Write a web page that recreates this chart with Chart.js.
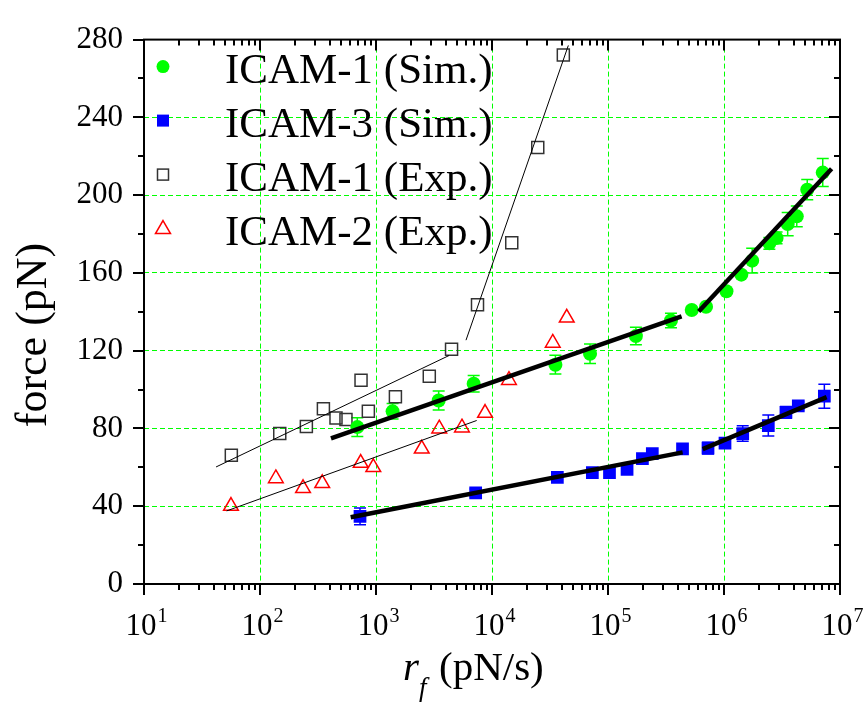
<!DOCTYPE html>
<html>
<head>
<meta charset="utf-8">
<script src="https://cdn.jsdelivr.net/npm/chart.js@4.4.0/dist/chart.umd.min.js"></script>
<style>
html,body{margin:0;padding:0;background:#fff;}
canvas{display:block;}
.fl{position:absolute;left:-999px;top:0;font-family:"Liberation Serif";}
</style>
</head>
<body>
<span class="fl">force 10</span><span class="fl" style="font-style:italic">r f</span>
<canvas id="chart" width="865" height="708"></canvas>
<script>
// ICAM-1 (Sim.)
var sim1X = [690, 1390, 3470, 6950, 35200, 70000, 174000, 349000, 527000, 700000, 1050000, 1410000, 1750000, 2460000, 2840000, 3540000, 4240000, 5220000, 7100000];
var sim1Y = [80.7, 88.8, 94.4, 103.0, 112.8, 118.4, 127.5, 135.5, 140.9, 142.6, 150.6, 159.1, 166.3, 175.2, 178.0, 185.1, 189.1, 202.8, 211.6];
var sim1Err = [4.8, 4.0, 4.9, 4.2, 4.8, 5.0, 4.5, 3.7, 0, 0, 0, 0, 6.4, 3, 3, 6, 5.3, 5.2, 7.2];

// ICAM-3 (Sim.)
var sim3X = [728, 7230, 36600, 73300, 103000, 146000, 198000, 241000, 439000, 728000, 1020000, 1450000, 2410000, 3420000, 4370000, 7330000];
var sim3Y = [34.8, 46.9, 54.8, 57.3, 57.3, 59.0, 64.5, 67.0, 69.5, 69.9, 72.4, 77.4, 81.5, 88.3, 91.6, 96.6];
var sim3Err = [4.3, 2, 0, 0, 0, 0, 0, 0, 0, 3, 0, 4, 5.4, 3, 2, 6.2];

// ICAM-1 (Exp.)
var exp1X = [56.6, 148, 251, 352, 452, 551, 743, 859, 1470, 2880, 4480, 7500, 14800, 24800, 41200];
var exp1Y = [66.2, 77.4, 81.0, 90.1, 85.4, 84.6, 104.8, 88.8, 96.3, 106.8, 120.7, 143.6, 175.5, 224.5, 272.1];

// ICAM-2 (Exp.)
var exp2X = [56.2, 137, 235, 344, 738, 948, 2480, 3510, 5510, 8710, 14000, 33400, 44100];
var exp2Y = [40.1, 54.3, 49.2, 51.8, 62.2, 60.0, 69.5, 79.9, 80.4, 87.9, 104.8, 124.0, 136.9];

// fitted segments (end points)
var fitSim1aX = [409, 431000],   fitSim1aY = [74.9, 137.7];
var fitSim1bX = [605000, 8470000], fitSim1bY = [140.2, 213.6];
var fitSim3aX = [605, 440000],   fitSim3aY = [34.3, 67.7];
var fitSim3bX = [655000, 7670000], fitSim3bY = [69.4, 96.1];
var fitExp1aX = [41.8, 4260],    fitExp1aY = [60.2, 117.5];
var fitExp1bX = [5970, 45500],   fitExp1bY = [125.4, 277];
var fitExp2X  = [51.6, 7380],    fitExp2Y  = [37.6, 84.1];

var seriesNames = ["ICAM-1 (Sim.)", "ICAM-3 (Sim.)", "ICAM-1 (Exp.)", "ICAM-2 (Exp.)"];
var xExponents = [1, 2, 3, 4, 5, 6, 7];
var yTicks = [0, 40, 80, 120, 160, 200, 240, 280];

var SERIF = '"Liberation Serif", "Times New Roman", serif';
var GREEN = '#00ff00';

function pts(xs, ys){
  return xs.map(function(x, i){ return {x: x, y: ys[i]}; });
}

function fitLine(xs, ys, w){
  return {
    label: 'fit', data: pts(xs, ys), showLine: true, pointRadius: 0,
    borderColor: '#000', borderWidth: w, order: 0
  };
}

function isDecade(v){
  var e = Math.log10(v);
  return Math.abs(e - Math.round(e)) < 1e-9;
}

// -----------------------------
var decor = {
  id: 'decor',
  beforeDatasetsDraw: function(chart){
    var ctx = chart.ctx, xs = chart.scales.x, ys = chart.scales.y;
    var bars = [[sim1X, sim1Y, sim1Err, GREEN], [sim3X, sim3Y, sim3Err, '#0000ff']];
    ctx.save();
    ctx.lineWidth = 1.5;
    bars.forEach(function(b){
      ctx.strokeStyle = b[3];
      b[0].forEach(function(xv, i){
        if(!b[2][i]) return;
        var px = xs.getPixelForValue(xv);
        var t = ys.getPixelForValue(b[1][i] + b[2][i]);
        var d = ys.getPixelForValue(b[1][i] - b[2][i]);
        ctx.beginPath();
        ctx.moveTo(px, t); ctx.lineTo(px, d);
        ctx.moveTo(px - 6, t); ctx.lineTo(px + 6, t);
        ctx.moveTo(px - 6, d); ctx.lineTo(px + 6, d);
        ctx.stroke();
      });
    });
    ctx.restore();
  },
  afterDraw: function(chart){
    var ctx = chart.ctx, a = chart.chartArea, xs = chart.scales.x, ys = chart.scales.y;
    ctx.save();
    ctx.strokeStyle = '#000';
    ctx.fillStyle = '#000';
    ctx.lineWidth = 2;
    ctx.strokeRect(a.left, a.top, a.right - a.left, a.bottom - a.top);

    // x ticks (bottom outward, top inward)
    ctx.beginPath();
    for(var e = 1; e <= 7; e++){
      for(var m = 1; m <= 9; m++){
        if(e === 7 && m > 1) break;
        var px = Math.round(xs.getPixelForValue(m * Math.pow(10, e)));
        var len = m === 1 ? 11 : 6;
        ctx.moveTo(px, a.bottom); ctx.lineTo(px, a.bottom + len);
        ctx.moveTo(px, a.top); ctx.lineTo(px, a.top + len);
      }
    }
    // y ticks (left outward, right inward)
    for(var v = 0; v <= 280; v += 20){
      var py = Math.round(ys.getPixelForValue(v));
      var l2 = v % 40 === 0 ? 11 : 6;
      ctx.moveTo(a.left - l2, py); ctx.lineTo(a.left, py);
      ctx.moveTo(a.right - l2, py); ctx.lineTo(a.right, py);
    }
    ctx.stroke();

    // x tick labels 10^n
    ctx.textBaseline = 'alphabetic';
    ctx.textAlign = 'left';
    xExponents.forEach(function(n){
      var px = xs.getPixelForValue(Math.pow(10, n));
      ctx.font = '31px ' + SERIF;
      var w1 = ctx.measureText('10').width;
      ctx.font = '20px ' + SERIF;
      var w2 = ctx.measureText(String(n)).width;
      var x0 = px - (w1 + w2) / 2 + 2;
      ctx.font = '31px ' + SERIF;
      ctx.fillText('10', x0, a.bottom + 51);
      ctx.font = '20px ' + SERIF;
      ctx.fillText(String(n), x0 + w1 + 1, a.bottom + 38);
    });

    // x title: r_f (pN/s)
    var cx = (a.left + a.right) / 2;
    ctx.font = 'italic 41px ' + SERIF;
    ctx.fillText('r', cx - 89, a.bottom + 96);
    ctx.font = 'italic 27px ' + SERIF;
    ctx.fillText('f', cx - 73, a.bottom + 112);
    ctx.font = '41px ' + SERIF;
    ctx.fillText('(pN/s)', cx - 53, a.bottom + 96);

    // y title
    ctx.save();
    ctx.translate(46, 335);
    ctx.rotate(-Math.PI / 2);
    ctx.textAlign = 'center';
    ctx.font = '44px ' + SERIF;
    ctx.fillText('force (pN)', 0, 0);
    ctx.restore();

    // legend
    var mx = a.left + 19;
    seriesNames.forEach(function(name, i){
      var base = a.top + 43 + i * 54;
      var my = base - 16;
      ctx.lineWidth = 1.5;
      if(i === 0){
        ctx.fillStyle = GREEN;
        ctx.beginPath(); ctx.arc(mx, my, 6.5, 0, Math.PI * 2); ctx.fill();
      } else if(i === 1){
        ctx.fillStyle = '#0000ff';
        ctx.fillRect(mx - 6, my - 6, 12, 12);
      } else if(i === 2){
        ctx.strokeStyle = '#333';
        ctx.strokeRect(mx - 5.5, my - 5.5, 11, 11);
      } else {
        ctx.strokeStyle = '#ff0000';
        ctx.beginPath();
        ctx.moveTo(mx, my - 8); ctx.lineTo(mx + 7.5, my + 5); ctx.lineTo(mx - 7.5, my + 5);
        ctx.closePath(); ctx.stroke();
      }
      ctx.fillStyle = '#000';
      ctx.font = '43px ' + SERIF;
      ctx.textAlign = 'left';
      ctx.fillText(name, a.left + 81, base);
    });
    ctx.restore();
  }
};

// -----------------------------
var datasets = [
  fitLine(fitSim1aX, fitSim1aY, 4.5),
  fitLine(fitSim1bX, fitSim1bY, 4.5),
  fitLine(fitSim3aX, fitSim3aY, 4.5),
  fitLine(fitSim3bX, fitSim3bY, 4.5),
  fitLine(fitExp1aX, fitExp1aY, 1),
  fitLine(fitExp1bX, fitExp1bY, 1),
  fitLine(fitExp2X, fitExp2Y, 1),
  {label: seriesNames[0], data: pts(sim1X, sim1Y), pointStyle: 'circle', pointRadius: 7,
   backgroundColor: GREEN, borderColor: GREEN, borderWidth: 0, order: 1},
  {label: seriesNames[1], data: pts(sim3X, sim3Y), pointStyle: 'rect', pointRadius: 9,
   backgroundColor: '#0000ff', borderColor: '#0000ff', borderWidth: 0, order: 1},
  {label: seriesNames[2], data: pts(exp1X, exp1Y), pointStyle: 'rect', pointRadius: 8.5,
   backgroundColor: 'rgba(0,0,0,0)', borderColor: '#333', borderWidth: 1.5, order: 1},
  {label: seriesNames[3], data: pts(exp2X, exp2Y), pointStyle: 'triangle', pointRadius: 8.5,
   backgroundColor: 'rgba(0,0,0,0)', borderColor: '#ff0000', borderWidth: 1.5, order: 1}
];

function makeChart(){
  new Chart(document.getElementById('chart'), {
    type: 'scatter',
    data: {datasets: datasets},
    options: {
      responsive: false,
      animation: false,
      devicePixelRatio: 1,
      layout: {padding: {top: 26, right: 25, left: 0, bottom: 0}},
      plugins: {legend: {display: false}, tooltip: {enabled: false}},
      scales: {
        x: {
          type: 'logarithmic', min: 10, max: 1e7,
          ticks: {display: false},
          grid: {
            drawTicks: false, lineWidth: 1,
            color: function(c){
              var v = c.tick && c.tick.value;
              return (v && isDecade(v) && v > 10 && v < 1e7) ? GREEN : 'rgba(0,0,0,0)';
            }
          },
          border: {display: false, dash: [5, 3]},
          afterFit: function(s){ s.height = 124; }
        },
        y: {
          min: 0, max: 280,
          afterBuildTicks: function(s){ s.ticks = yTicks.map(function(v){ return {value: v}; }); },
          ticks: {font: {family: SERIF, size: 31}, color: '#000', padding: 21},
          grid: {
            drawTicks: false, lineWidth: 1,
            color: function(c){
              var v = c.tick && c.tick.value;
              return (v > 0 && v < 280) ? GREEN : 'rgba(0,0,0,0)';
            }
          },
          border: {display: false, dash: [5, 3]},
          afterFit: function(s){ s.width = 144; }
        }
      }
    },
    plugins: [decor]
  });
}

Promise.all([
  document.fonts.load('31px "Liberation Serif"'),
  document.fonts.load('italic 31px "Liberation Serif"')
]).then(makeChart, makeChart);
</script>
</body>
</html>
